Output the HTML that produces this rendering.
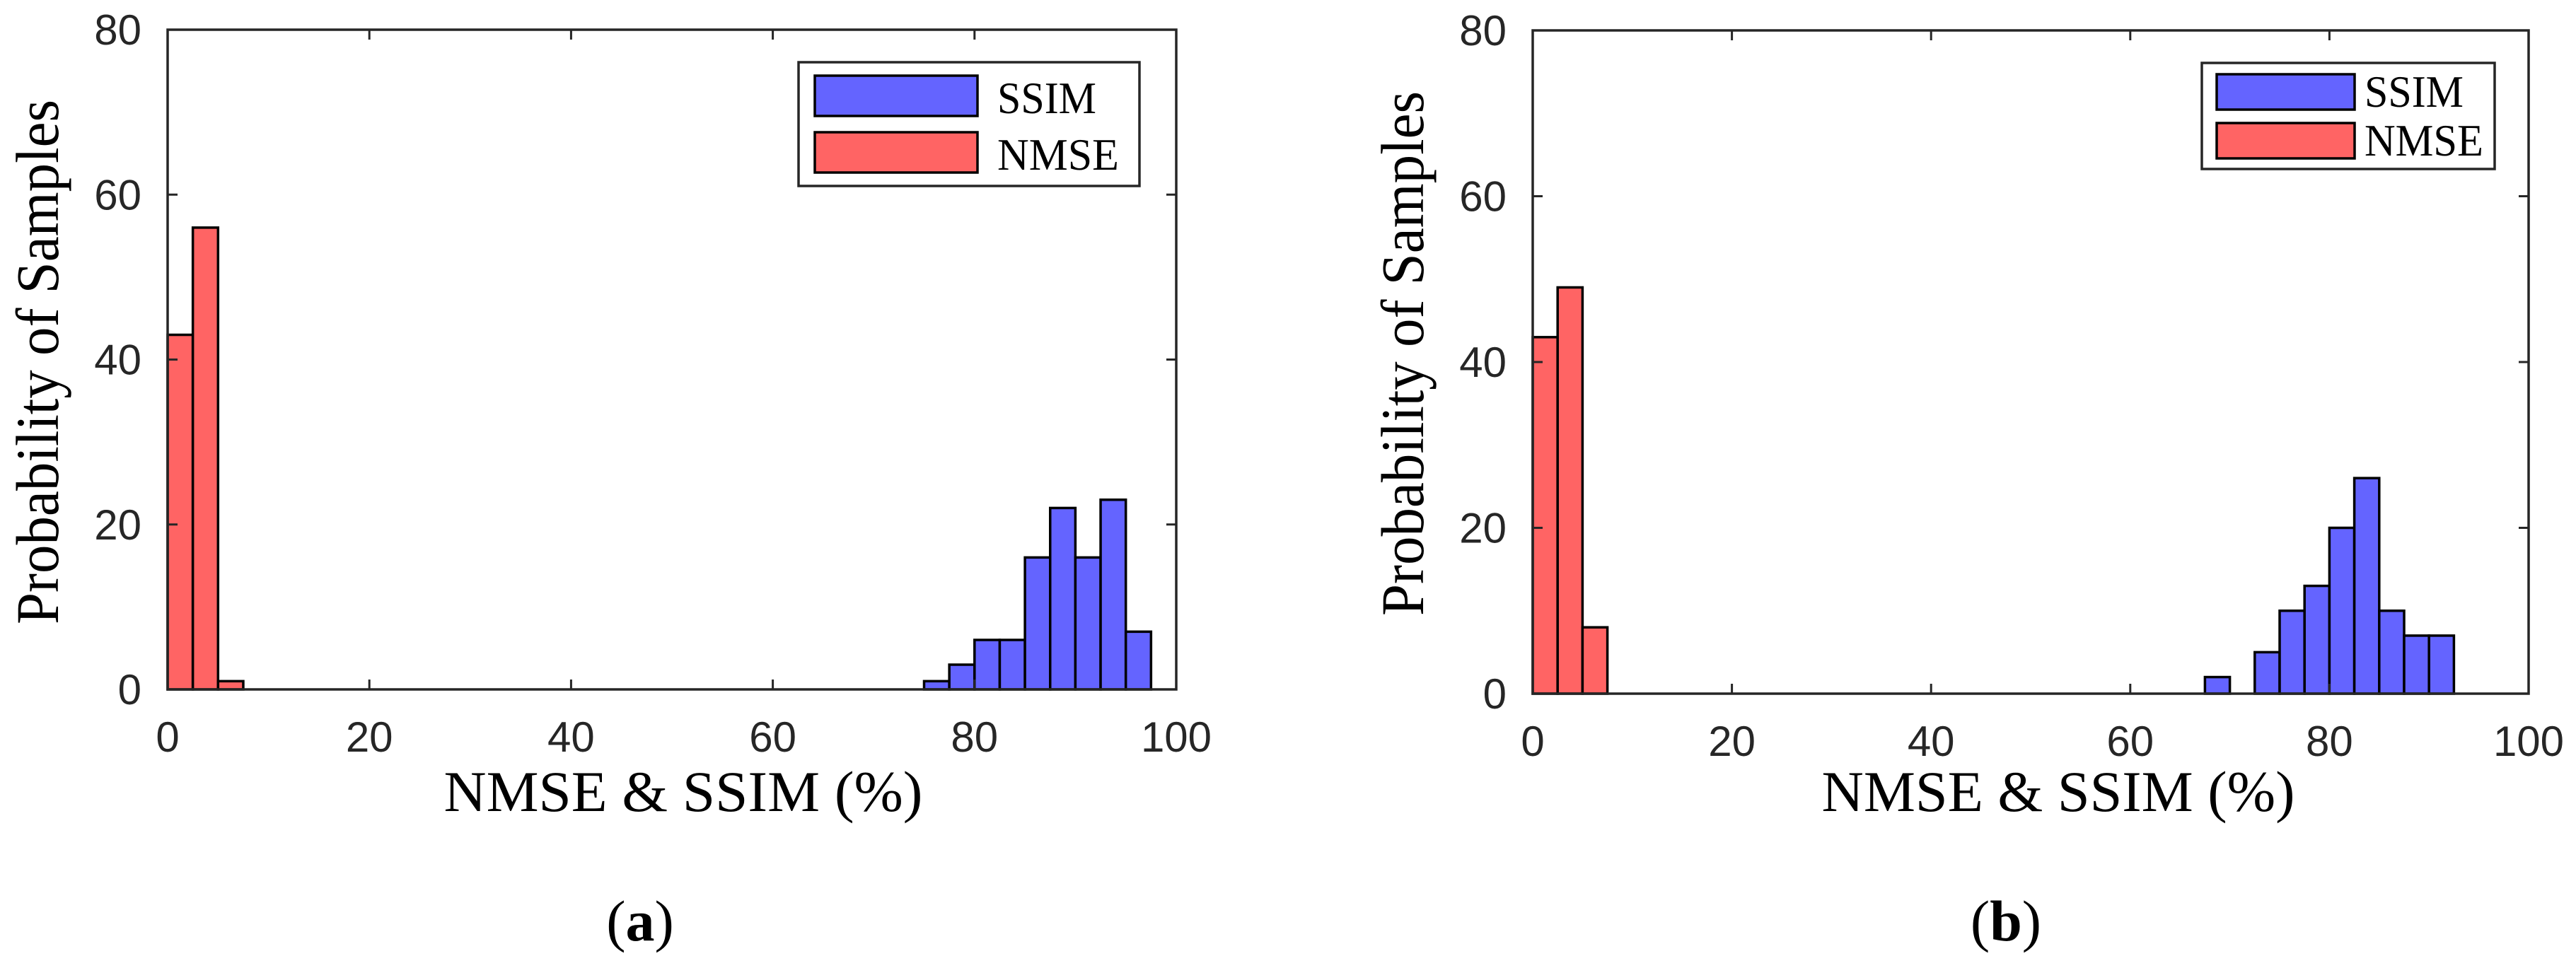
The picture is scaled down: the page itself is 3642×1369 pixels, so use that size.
<!DOCTYPE html>
<html><head><meta charset="utf-8"><style>
html,body{margin:0;padding:0;background:#fff;}
svg{display:block;}
</style></head><body>
<svg id="fig" width="3642" height="1369" viewBox="0 0 3642 1369" xmlns="http://www.w3.org/2000/svg"></svg>
<script>
// Shared bin settings
const binWidth = 2.5;
const xTicks = [0, 20, 40, 60, 80, 100];
const yTicks = [0, 20, 40, 60, 80];
// Panel (a)
const aNmseStarts = [0, 2.5, 5];
const aNmseValues = [43, 56, 1];
const aSsimStarts = [75, 77.5, 80, 82.5, 85, 87.5, 90, 92.5, 95];
const aSsimValues = [1, 3, 6, 6, 16, 22, 16, 23, 7];
// Panel (b)
const bNmseStarts = [0, 2.5, 5];
const bNmseValues = [43, 49, 8];
const bSsimStarts = [67.5, 72.5, 75, 77.5, 80, 82.5, 85, 87.5, 90];
const bSsimValues = [2, 5, 10, 13, 20, 26, 10, 7, 7];

const NS = 'http://www.w3.org/2000/svg';
const svg = document.getElementById('fig');
function mk(tag, attrs, parent, text) {
  const e = document.createElementNS(NS, tag);
  for (const k in attrs) e.setAttribute(k, attrs[k]);
  if (text !== undefined) e.textContent = text;
  (parent || svg).appendChild(e);
  return e;
}

function panel(cfg) {
  const g = mk('g', {});
  
  
  const L = cfg.L, R = cfg.R, T = cfg.T, B = cfg.B;
  const sx = v => L + (v - 0) / 100 * (R - L);
  const sy = v => B - v / 80 * (B - T);

  const bars = (starts, vals, fill, nm) => {
    const bg = mk('g', {}, g);
    
    
    starts.forEach((s, i) => {
      const x0 = sx(s), x1 = sx(s + binWidth), y = sy(vals[i]);
      const r = mk('rect', {x: x0, y: y, width: x1 - x0, height: B - y, fill: fill, stroke: '#000', 'stroke-width': 3.5}, bg);
      
      
    });
  };
  bars(cfg.nmseStarts, cfg.nmseVals, '#ff6464', 'nmse');
  bars(cfg.ssimStarts, cfg.ssimVals, '#6464ff', 'ssim');

  // axes box
  const box = mk('rect', {x: L, y: T, width: R - L, height: B - T, fill: 'none', stroke: '#262626', 'stroke-width': 3.5}, g);
  
  

  // ticks
  xTicks.forEach(t => {
    const x = sx(t);
    mk('line', {x1: x, y1: B, x2: x, y2: B - 14, stroke: '#262626', 'stroke-width': 3}, g);
    mk('line', {x1: x, y1: T, x2: x, y2: T + 14, stroke: '#262626', 'stroke-width': 3}, g);
    const tx = mk('text', {x: x, y: B + 88, 'text-anchor': 'middle', 'font-family': 'Liberation Sans, sans-serif', 'font-size': 60, fill: '#262626'}, g, String(t));
    
    
  });
  yTicks.forEach(t => {
    const y = sy(t);
    mk('line', {x1: L, y1: y, x2: L + 14, y2: y, stroke: '#262626', 'stroke-width': 3}, g);
    mk('line', {x1: R, y1: y, x2: R - 14, y2: y, stroke: '#262626', 'stroke-width': 3}, g);
    const ty = mk('text', {x: L - 37, y: y + 21, 'text-anchor': 'end', 'font-family': 'Liberation Sans, sans-serif', 'font-size': 60, fill: '#262626'}, g, String(t));
    
    
  });

  // axis titles
  const xt = mk('text', {x: cfg.xlx, y: 1147, 'text-anchor': 'middle', 'font-family': 'Liberation Serif, serif', 'font-size': 82, fill: '#000', textLength: cfg.xlw, lengthAdjust: 'spacingAndGlyphs'}, g, 'NMSE & SSIM (%)');
  
  
  const yt = mk('text', {x: 0, y: 0, 'text-anchor': 'middle', 'font-family': 'Liberation Serif, serif', 'font-size': 86, fill: '#000', textLength: cfg.ylw, lengthAdjust: 'spacingAndGlyphs', transform: 'translate(' + cfg.ylx + ',' + cfg.yly + ') rotate(-90)'}, g, 'Probability of Samples');
  
  

  // legend
  const lg = mk('g', {}, g);
  
  
  const lb = cfg.leg;
  mk('rect', {x: lb.x, y: lb.y, width: lb.w, height: lb.h, fill: '#fff', stroke: '#262626', 'stroke-width': 3.5}, lg);
  const ent = [['SSIM', '#6464ff', lb.p1y], ['NMSE', '#ff6464', lb.p2y]];
  ent.forEach(e => {
    const eg = mk('g', {}, lg);
    
    
    mk('rect', {x: lb.px, y: e[2], width: lb.pw, height: lb.ph, fill: e[1], stroke: '#000', 'stroke-width': 3.5}, eg);
    mk('text', {x: lb.tx, y: e[2] + lb.ph - 4, 'font-family': 'Liberation Serif, serif', 'font-size': 63, fill: '#000', textLength: e[0] === 'SSIM' ? lb.sw : lb.nw, lengthAdjust: 'spacingAndGlyphs'}, eg, e[0]);
  });

  // caption
  const cap = mk('text', {x: cfg.capx, y: 1330, 'text-anchor': 'middle', 'font-family': 'Liberation Serif, serif', 'font-size': 82, fill: '#000'}, g);
  mk('tspan', {}, cap, '(');
  mk('tspan', {'font-weight': 'bold'}, cap, cfg.cap);
  mk('tspan', {}, cap, ')');
  
  
}

panel({name: 'panel-a', L: 237, R: 1663, T: 42, B: 975,
  nmseStarts: aNmseStarts, nmseVals: aNmseValues, ssimStarts: aSsimStarts, ssimVals: aSsimValues,
  xlx: 966, xlw: 677, ylx: 82, yly: 512, ylw: 742, capx: 905, cap: 'a',
  leg: {x: 1129, y: 88, w: 482, h: 175, px: 1152, pw: 230, ph: 57, p1y: 107, p2y: 187, tx: 1410, sw: 140, nw: 172}});
panel({name: 'panel-b', L: 2167, R: 3575, T: 43, B: 981,
  nmseStarts: bNmseStarts, nmseVals: bNmseValues, ssimStarts: bSsimStarts, ssimVals: bSsimValues,
  xlx: 2910, xlw: 669, ylx: 2012, yly: 500, ylw: 742, capx: 2836, cap: 'b',
  leg: {x: 3113, y: 89, w: 414, h: 150, px: 3134, pw: 195, ph: 50, p1y: 105, p2y: 174, tx: 3343, sw: 140, nw: 168}});
</script>
</body></html>
